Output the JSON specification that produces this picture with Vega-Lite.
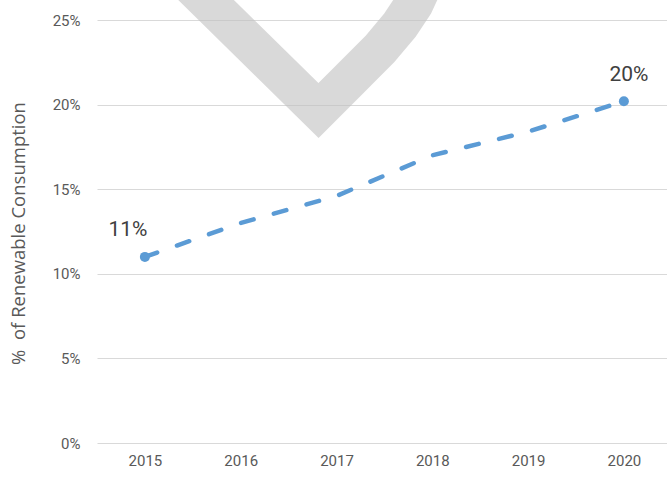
{
  "$schema": "https://vega.github.io/schema/vega-lite/v6.json",
  "width": 570,
  "height": 423,
  "autosize": "none",
  "padding": {"left": 97, "top": 20, "right": 0, "bottom": 35},
  "background": "white",
  "config": {"view": {"stroke": null}, "font": "Roboto"},
  "datasets": {
    "series": [
      {"year": 2015, "pct": 11.0, "label": "11%"},
      {"year": 2016, "pct": 13.0, "label": ""},
      {"year": 2017, "pct": 14.6, "label": ""},
      {"year": 2018, "pct": 17.0, "label": ""},
      {"year": 2019, "pct": 18.4, "label": ""},
      {"year": 2020, "pct": 20.2, "label": "20%"}
    ],
    "check": [
      {"order": 1, "year": 2015.319, "pct": 27.96},
      {"order": 2, "year": 2016.812, "pct": 19.65},
      {"order": 3, "year": 2017.141, "pct": 21.51},
      {"order": 4, "year": 2017.454, "pct": 23.29},
      {"order": 5, "year": 2017.663, "pct": 24.7},
      {"order": 6, "year": 2017.809, "pct": 25.95},
      {"order": 7, "year": 2017.924, "pct": 27.36}
    ]
  },
  "encoding": {
    "x": {
      "field": "year",
      "type": "quantitative",
      "scale": {"domain": [2014.5, 2020.45], "nice": false, "zero": false},
      "axis": {
        "values": [2015, 2016, 2017, 2018, 2019, 2020],
        "format": "d",
        "title": null,
        "grid": false,
        "domain": false,
        "ticks": false,
        "labelPadding": 10,
        "labelFontSize": 15,
        "labelColor": "#595959",
        "labelFont": "Roboto"
      }
    },
    "y": {
      "field": "pct",
      "type": "quantitative",
      "scale": {"domain": [0, 25], "nice": false},
      "axis": {
        "values": [0, 5, 10, 15, 20, 25],
        "labelExpr": "datum.value + '%'",
        "title": "% \u00a0of Renewable Consumption",
        "titleX": -79,
        "titleY": 213,
        "titleAngle": 270,
        "titleAlign": "center",
        "titleBaseline": "middle",
        "titleFontSize": 18.5,
        "titleFontWeight": "normal",
        "titleColor": "#595959",
        "titleFont": "Open Sans",
        "grid": true,
        "gridColor": "#d9d9d9",
        "gridWidth": 1.2,
        "domain": false,
        "ticks": false,
        "labelPadding": 17,
        "labelFontSize": 15,
        "labelColor": "#595959",
        "labelFont": "Roboto"
      }
    }
  },
  "layer": [
    {
      "data": {"name": "check"},
      "mark": {"type": "line", "color": "#bfbfbf", "opacity": 0.6, "strokeWidth": 39, "strokeJoin": "miter", "strokeCap": "butt"},
      "encoding": {"order": {"field": "order", "type": "quantitative"}}
    },
    {
      "data": {"name": "series"},
      "mark": {"type": "line", "color": "#5B9BD5", "strokeWidth": 4.5, "strokeDash": [13, 21], "strokeCap": "round"},
      "encoding": {}
    },
    {
      "data": {"name": "series"},
      "transform": [{"filter": "datum.label != ''"}],
      "mark": {"type": "point", "shape": "circle", "filled": true, "opacity": 1, "color": "#5B9BD5", "size": 100},
      "encoding": {}
    },
    {
      "data": {"name": "series"},
      "transform": [{"filter": "datum.year == 2015"}],
      "mark": {"type": "text", "dx": -17, "dy": -27, "fontSize": 21, "color": "#404040", "font": "Roboto"},
      "encoding": {"text": {"field": "label"}}
    },
    {
      "data": {"name": "series"},
      "transform": [{"filter": "datum.year == 2020"}],
      "mark": {"type": "text", "dx": 5, "dy": -26, "fontSize": 21, "color": "#404040", "font": "Roboto"},
      "encoding": {"text": {"field": "label"}}
    }
  ]
}
